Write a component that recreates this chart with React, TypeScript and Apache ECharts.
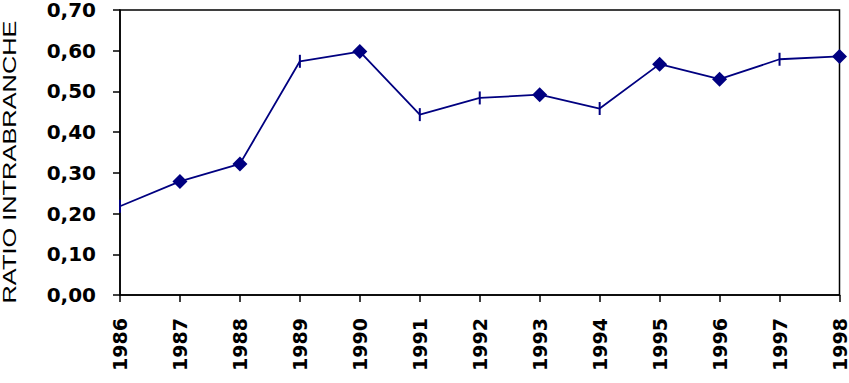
import React, { useEffect, useRef } from "react";
import * as echarts from "echarts";

const years = ["1986", "1987", "1988", "1989", "1990", "1991", "1992", "1993", "1994", "1995", "1996", "1997", "1998"];
const ratioValues = [0.218, 0.279, 0.322, 0.574, 0.598, 0.443, 0.484, 0.492, 0.458, 0.567, 0.53, 0.579, 0.586];
const diamondYears = ["1987", "1988", "1990", "1993", "1995", "1996", "1998"];
const yTicks = { min: 0, max: 0.7, interval: 0.1 };
const yTitle = "RATIO INTRABRANCHE";

const NAVY = "#000080";

export default function App() {
  const ref = useRef<HTMLDivElement>(null);
  useEffect(() => {
    if (!ref.current) return;
    const chart = echarts.init(ref.current, null, { renderer: "svg" });
    const data = ratioValues.map((v, i) => {
      const diamond = diamondYears.includes(years[i]);
      return {
        value: v,
        symbol: diamond ? "diamond" : "rect",
        symbolSize: diamond ? [15, 15] : [2, 13],
      };
    });
    chart.setOption({
      animation: false,
      backgroundColor: "#ffffff",
      grid: {
        left: 120,
        right: 8,
        top: 6,
        bottom: 88,
        show: true,
        borderColor: "#000",
        borderWidth: 1.5,
        backgroundColor: "transparent",
      },
      xAxis: {
        type: "category",
        data: years,
        boundaryGap: false,
        axisLine: { lineStyle: { color: "#000", width: 1.5 } },
        axisTick: { show: true, length: 7, alignWithLabel: true, lineStyle: { color: "#000", width: 1.5 } },
        axisLabel: {
          rotate: 90,
          margin: 23,
          color: "#000",
          fontFamily: "DejaVu Sans",
          fontWeight: "bold",
          fontSize: 19,
          interval: 0,
        },
        splitLine: { show: false },
      },
      yAxis: {
        type: "value",
        min: yTicks.min,
        max: yTicks.max,
        interval: yTicks.interval,
        axisLine: { show: true, lineStyle: { color: "#000", width: 1.5 } },
        axisTick: { show: true, length: 7, lineStyle: { color: "#000", width: 1.5 } },
        axisLabel: {
          margin: 24,
          color: "#000",
          fontFamily: "DejaVu Sans",
          fontWeight: "bold",
          fontSize: 20,
          formatter: (v: number) => v.toFixed(2).replace(".", ","),
        },
        splitLine: { show: false },
      },
      graphic: [
        {
          type: "text",
          x: 10,
          y: 162,
          rotation: Math.PI / 2,
          scaleX: 1.41,
          style: {
            text: yTitle,
            font: 'normal 18px "Liberation Sans"',
            fill: "#000",
            align: "center",
            verticalAlign: "middle",
          },
        },
      ],
      series: [
        {
          type: "line",
          data,
          clip: false,
          lineStyle: { color: NAVY, width: 1.8 },
          itemStyle: { color: NAVY, borderColor: NAVY, borderWidth: 0 },
          showAllSymbol: true,
        },
      ],
    });
    return () => chart.dispose();
  }, []);
  return <div ref={ref} style={{ position: "fixed", left: 0, top: 0, width: 849, height: 383 }} />;
}
